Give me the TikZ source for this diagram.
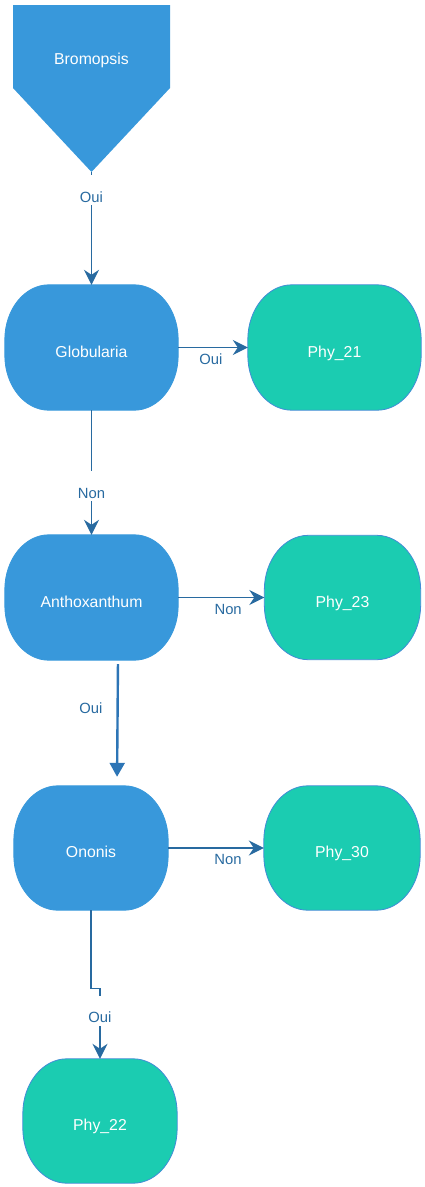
\documentclass[tikz,border=0pt]{standalone}
\usepackage{fontspec}
\setmainfont{Liberation Sans}
\usepackage{xcolor}
\usetikzlibrary{arrows.meta,positioning,calc}
\pgfdeclarelayer{background}
\pgfsetlayers{background,main}
\definecolor{flblue}{RGB}{56,152,219}
\definecolor{flteal}{RGB}{27,204,177}
\definecolor{flrim}{RGB}{66,140,214}
\definecolor{fledge}{RGB}{40,106,160}
\definecolor{flthick}{RGB}{45,117,182}
\tikzset{
flterm/.style={rectangle,align=center,text=white,font=\fontsize{15.8}{19}\selectfont,minimum width=173pt,minimum height=125pt,inner sep=0pt,text height=19pt,text depth=0pt},
flgenus/.style={fill=flblue,draw=flblue,line width=0.8pt},
flgroup/.style={fill=flteal,draw=flrim,line width=0.8pt},
flentry/.style={fill=flblue},
fltext/.style={text=white,font=\fontsize{15.8}{19}\selectfont,inner sep=0pt},
flarr/.style={-{Stealth[length=15pt,width=15pt,inset=5pt]},line width=1.2pt,draw=fledge},
flblock/.style={-{Triangle[length=14pt,width=15pt]},line width=2.4pt,draw=flthick},
fllabel/.style={font=\fontsize{14.8}{18}\selectfont,text=fledge,fill=white,inner xsep=1pt,inner ysep=1pt,text height=26pt,text depth=2pt},
flside/.style={font=\fontsize{14.8}{18}\selectfont,text=fledge,inner sep=2pt}
}
\begin{document}
\begin{tikzpicture}[x=1pt,y=-1pt]
\useasboundingbox (0,0) rectangle (424,1187);
% entry key
\fill[flentry] (13,5) -- (170,5) -- (170,88) -- (91.5,172) -- (13,88) -- cycle;
\node[fltext,anchor=base] (bromopsis) at (91.5,64) {Bromopsis};
\coordinate (bromtip) at (91.5,172);
% genera and groups
\node[flterm] (globularia) at (91.5,347.5) {Globularia};
\node[flterm] (phy21) at (334.5,347.5) {Phy\_21};
\node[flterm] (anthoxanthum) at (91.5,597.5) {Anthoxanthum};
\node[flterm,minimum width=156pt,minimum height=124pt] (phy23) at (342.5,597.5) {Phy\_23};
\node[flterm,minimum width=154pt,minimum height=124pt] (ononis) at (91,848) {Ononis};
\node[flterm,minimum width=156pt,minimum height=124pt] (phy30) at (342,848) {Phy\_30};
\node[flterm,minimum width=154pt,minimum height=124pt] (phy22) at (100,1121) {Phy\_22};
\begin{pgfonlayer}{background}
\foreach \n/\s in {globularia/flgenus,anthoxanthum/flgenus,ononis/flgenus,phy21/flgroup,phy23/flgroup,phy30/flgroup,phy22/flgroup}
  \path[\s] ([xshift=44pt]\n.north west) -- ([xshift=-44pt]\n.north east)
    arc[start angle=90,end angle=0,x radius=44pt,y radius=55pt]
    -- ([yshift=55pt]\n.south east)
    arc[start angle=0,end angle=-90,x radius=44pt,y radius=55pt]
    -- ([xshift=44pt]\n.south west)
    arc[start angle=-90,end angle=-180,x radius=44pt,y radius=55pt]
    -- ([yshift=-55pt]\n.north west)
    arc[start angle=180,end angle=90,x radius=44pt,y radius=55pt] -- cycle;
\end{pgfonlayer}
% connectors
\draw[flarr] (bromtip) -- node[fllabel,pos=0.16]{Oui} (globularia);
\draw[flarr] (globularia) -- node[flside,below=4pt,pos=0.47]{Oui} (phy21);
\draw[flarr] (globularia) -- node[fllabel,pos=0.61]{Non} (anthoxanthum);
\draw[flarr] (anthoxanthum) -- node[flside,below=4pt,pos=0.58]{Non} (phy23);
\draw[flblock,shorten <=4pt,shorten >=9pt] ([xshift=26.5pt]anthoxanthum.south) -- node[flside,left=12pt,pos=0.38]{Oui} ([xshift=26pt]ononis.north);
\draw[flarr] (ononis) -- node[flside,below=4pt,pos=0.625]{Non} (phy30);
\draw[flarr] (ononis.south) -- ++(0,78) -| node[fllabel,pos=0.66]{Oui} (phy22.north);
\end{tikzpicture}
\end{document}
